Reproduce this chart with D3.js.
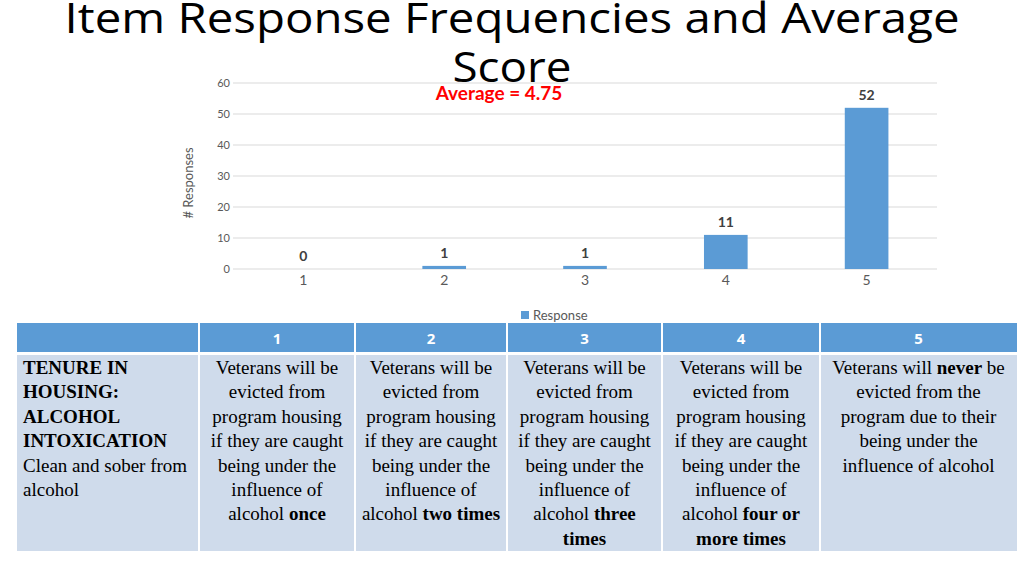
<!DOCTYPE html>
<html><head><meta charset="utf-8">
<script src="https://cdn.jsdelivr.net/npm/d3@7"></script>
<style>body{margin:0;background:#fff}svg{display:block}
.serif{font-family:"Liberation Serif","Times New Roman",Times,"DejaVu Serif",serif;}</style>
</head><body>
<svg id="c" width="1024" height="575"></svg>
<script>
const titleLines = ["Item Response Frequencies and Average", "Score"];
const categories = ["1", "2", "3", "4", "5"];
const counts = [0, 1, 1, 11, 52];
const yTicks = [0, 10, 20, 30, 40, 50, 60];
const averageLabel = "Average = 4.75";
const yAxisLabel = "# Responses";
const legendLabel = "Response";
const rowHeaderLines = ["**TENURE IN", "**HOUSING:", "**ALCOHOL", "**INTOXICATION", "Clean and sober from", "alcohol"];
const descriptions = [
  ["Veterans will be", "evicted from", "program housing", "if they are caught", "being under the", "influence of", "alcohol **once"],
  ["Veterans will be", "evicted from", "program housing", "if they are caught", "being under the", "influence of", "alcohol **two times"],
  ["Veterans will be", "evicted from", "program housing", "if they are caught", "being under the", "influence of", "alcohol **three", "**times"],
  ["Veterans will be", "evicted from", "program housing", "if they are caught", "being under the", "influence of", "alcohol **four or", "**more times"],
  ["Veterans will **never** be", "evicted from the", "program due to their", "being under the", "influence of alcohol"]
];

const svg = d3.select("#c");
const blue = "#5b9bd5";

// chart
const x = d3.scaleBand().domain(categories).range([233, 937]).paddingInner(0.69).paddingOuter(0.345);
const y = d3.scaleLinear().domain([0, 60]).range([269, 83]);

const g = svg.append("g");
g.selectAll("line.grid").data(yTicks).join("line")
  .attr("x1", 233).attr("x2", 937)
  .attr("y1", d => y(d)).attr("y2", d => y(d))
  .attr("stroke", "#d9d9d9").attr("stroke-width", 1);

const yAxis = g.append("g").attr("transform", "translate(233,0)")
  .call(d3.axisLeft(y).tickValues(yTicks).tickSize(0).tickPadding(3));
yAxis.select(".domain").remove();
yAxis.selectAll("text").attr("font-family", "Lato").attr("font-size", 11).attr("fill", "#595959");

const xAxis = g.append("g").attr("transform", "translate(0,269)")
  .call(d3.axisBottom(x).tickSize(0).tickPadding(6));
xAxis.select(".domain").remove();
xAxis.selectAll("text").attr("font-family", "Lato").attr("font-size", 14).attr("fill", "#595959");

g.selectAll("rect.bar").data(counts).join("rect")
  .attr("x", (d, i) => x(categories[i])).attr("width", x.bandwidth())
  .attr("y", d => y(d)).attr("height", d => y(0) - y(d))
  .attr("fill", blue);

g.selectAll("text.val").data(counts).join("text")
  .attr("x", (d, i) => x(categories[i]) + x.bandwidth() / 2)
  .attr("y", d => y(d) - 8)
  .attr("text-anchor", "middle").attr("font-family", "Lato").attr("font-weight", "bold")
  .attr("font-size", 14).attr("fill", "#404040").text(d => d);

g.append("text").attr("x", 499).attr("y", 100).attr("text-anchor", "middle")
  .attr("font-family", "Lato").attr("font-weight", "bold").attr("font-size", 19)
  .attr("fill", "#ff0000").text(averageLabel);

g.append("text").attr("transform", "translate(193,183) rotate(-90)").attr("text-anchor", "middle")
  .attr("font-family", "Lato").attr("font-size", 13).attr("fill", "#595959").text(yAxisLabel);

g.append("rect").attr("x", 521).attr("y", 311).attr("width", 8).attr("height", 8).attr("fill", blue);
g.append("text").attr("x", 533).attr("y", 320).attr("font-family", "Lato").attr("font-size", 13)
  .attr("fill", "#595959").text(legendLabel);

// title
svg.selectAll("text.title").data(titleLines).join("text")
  .attr("x", 512).attr("y", (d, i) => 33 + i * 49).attr("text-anchor", "middle")
  .attr("font-family", "Open Sans").attr("font-size", 42).attr("fill", "#000")
  .attr("textLength", (d, i) => i === 0 ? 895 : 119).attr("lengthAdjust", "spacingAndGlyphs")
  .text(d => d);

// table
const colEdges = [17, 199, 355, 507, 662, 820, 1017];
const headY = 323, headH = 30, bodyY = 354, bodyH = 197;
const tbl = svg.append("g");
for (let c = 0; c < 6; c++) {
  const x0 = colEdges[c], w = colEdges[c + 1] - colEdges[c];
  tbl.append("rect").attr("x", x0).attr("y", headY).attr("width", w).attr("height", headH).attr("fill", blue);
  tbl.append("rect").attr("x", x0).attr("y", bodyY).attr("width", w).attr("height", bodyH).attr("fill", "#cfdbeb");
}
tbl.selectAll("line.sep").data(colEdges.slice(1, -1)).join("line")
  .attr("x1", d => d).attr("x2", d => d).attr("y1", headY).attr("y2", bodyY + bodyH)
  .attr("stroke", "#fff").attr("stroke-width", 2);
tbl.append("line").attr("x1", 17).attr("x2", 1017).attr("y1", 353.5).attr("y2", 353.5)
  .attr("stroke", "#fff").attr("stroke-width", 3);

tbl.selectAll("text.hd").data(categories).join("text")
  .attr("x", (d, i) => (colEdges[i + 1] + colEdges[i + 2]) / 2).attr("y", 344)
  .attr("text-anchor", "middle").attr("font-family", "Open Sans").attr("font-weight", "bold")
  .attr("font-size", 15).attr("fill", "#fff").text(d => d);

function richLine(sel, line) {
  const parts = line.split("**");
  parts.forEach((p, k) => {
    if (p === "") return;
    sel.append("tspan").attr("class", "serif").attr("font-weight", k % 2 === 1 ? "bold" : "normal").text(p);
  });
}
const lh = 24.4, firstBase = 374;
rowHeaderLines.forEach((ln, i) => {
  const t = tbl.append("text").attr("class", "serif").attr("x", 23).attr("y", firstBase + i * lh)
    .attr("font-size", 19).attr("fill", "#000");
  richLine(t, ln);
});
descriptions.forEach((lines, c) => {
  const cx = (colEdges[c + 1] + colEdges[c + 2]) / 2;
  lines.forEach((ln, i) => {
    const t = tbl.append("text").attr("class", "serif").attr("x", cx).attr("y", firstBase + i * lh)
      .attr("text-anchor", "middle").attr("font-size", 19).attr("fill", "#000");
    richLine(t, ln);
  });
});
</script>
</body></html>
